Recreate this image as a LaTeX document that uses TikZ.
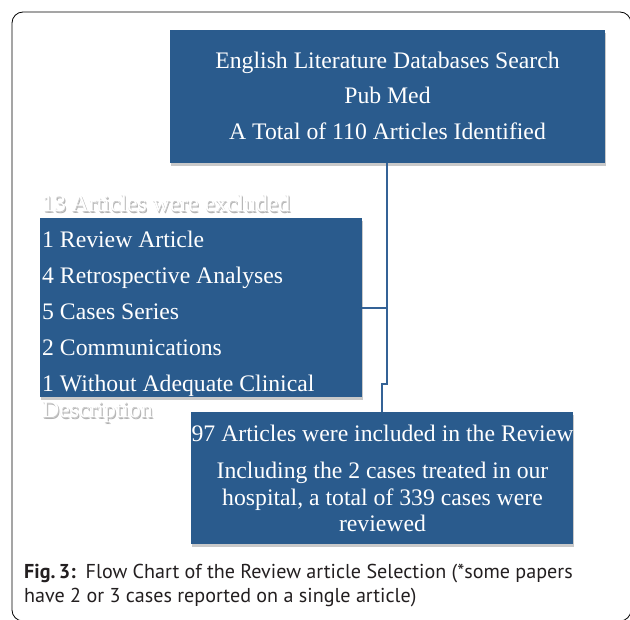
\documentclass[tikz,border=0pt]{standalone}
\usepackage{fontspec}
\usetikzlibrary{shadows}
\newfontfamily\boxfont{Liberation Serif}
\newfontfamily\capfont{PT Sans}
\definecolor{boxblue}{RGB}{42,91,141}
\definecolor{lineblue}{RGB}{52,98,150}
\definecolor{captext}{RGB}{35,31,32}
\newcommand{\glowtext}[1]{%
  \rlap{\hspace{1.2pt}\raisebox{-1.6pt}{\color{black!30}#1}}%
  \rlap{\hspace{0.6pt}\raisebox{-0.8pt}{\color{black!22}#1}}%
  {\color{white}#1}}
\tikzset{
  box/.style={fill=boxblue, inner sep=0pt, anchor=north west,
    drop shadow={shadow xshift=1pt, shadow yshift=-3pt, opacity=0.35, fill=black!60}},
  wtxt/.style={text=white, inner sep=0pt, font=\boxfont\fontsize{23.7}{28}\selectfont},
  link/.style={draw=lineblue, line width=1.5pt},
  captxt/.style={text=captext, inner sep=0pt, anchor=base west, font=\capfont\fontsize{20.1}{24}\selectfont},
}
\begin{document}
\begin{tikzpicture}[x=1pt,y=-1pt]
\useasboundingbox (0,0) rectangle (630,620);
\fill[white] (0,0) rectangle (630,620);
\draw[line width=0.8pt, rounded corners=11pt] (12,12) rectangle (631,621);

% boxes
\node[box, minimum width=435pt, minimum height=133pt] (top) at (170,29.5) {};
\node[box, minimum width=322pt, minimum height=179pt] (excl) at (40,218) {};
\node[box, minimum width=382pt, minimum height=132pt] (bot) at (191,412) {};

% connectors
\coordinate (jh) at (387,308);
\coordinate (j1) at (387,384);
\coordinate (j2) at (382,384);
\draw[link] (top.south -| j1) -- (j1) -- (j2) -- (bot.north -| j2);
\draw[link] (excl.east |- jh) -- (jh);

% top box text
\node[wtxt, anchor=base] (t1) at (387.5,69) {English Literature Databases Search};
\node[wtxt, anchor=base] (t2) at (387.5,104) {Pub Med};
\node[wtxt, anchor=base] (t3) at (387.5,140) {A Total of 110 Articles Identified};

% excluded header and tail (white text with soft shadow)
\node[wtxt, anchor=base west] (h) at (42,211.5) {\glowtext{13 Articles were excluded}};
\node[wtxt, anchor=base west] (d) at (42,418) {\glowtext{Description}};

% excluded list
\node[wtxt, anchor=base west] (e1) at (42,248) {1 Review Article};
\node[wtxt, anchor=base west] (e2) at (42,284) {4 Retrospective Analyses};
\node[wtxt, anchor=base west] (e3) at (42,320) {5 Cases Series};
\node[wtxt, anchor=base west] (e4) at (42,356) {2 Communications};
\node[wtxt, anchor=base west] (e5) at (42,392) {1 Without Adequate Clinical};

% bottom box text
\node[wtxt, anchor=base] (b1) at (382.5,442) {97 Articles were included in the Review};
\node[wtxt, anchor=base] (b2) at (382.5,479) {Including the 2 cases treated in our};
\node[wtxt, anchor=base] (b3) at (382.5,506) {hospital, a total of 339 cases were};
\node[wtxt, anchor=base] (b4) at (382.5,532) {reviewed};

% caption
\node[captxt] (c1) at (24,579) {\textbf{Fig.\,3:}\enspace Flow Chart of the Review article Selection (*some papers};
\node[captxt] (c2) at (24,602) {have 2 or 3 cases reported on a single article)};
\end{tikzpicture}
\end{document}
